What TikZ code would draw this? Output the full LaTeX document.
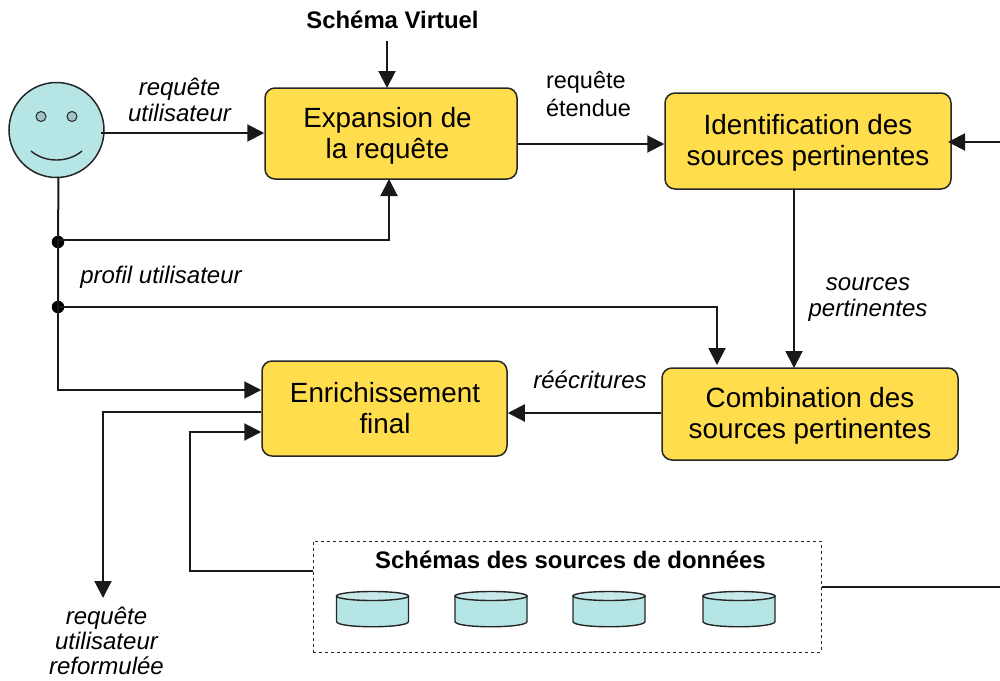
\documentclass[tikz,border=0pt]{standalone}
\usepackage{fontspec}
\setmainfont{Liberation Sans}
\usetikzlibrary{arrows.meta,calc}
\definecolor{boxfill}{HTML}{FFDD4D}
\definecolor{cyanfill}{HTML}{B5E5E5}
\definecolor{cyantop}{HTML}{C8E9E9}
\definecolor{eyefill}{HTML}{9CC4C2}
\tikzset{
  stepbox/.style={draw=black!85,line width=1.5pt,fill=boxfill,rounded corners=10pt,align=center,
    font=\fontsize{27.8}{31}\selectfont,inner sep=0pt},
  lab/.style={align=center,inner sep=0pt,font=\fontsize{24}{26}\selectfont\itshape},
  labn/.style={align=left,inner sep=0pt,font=\fontsize{23.5}{28}\selectfont},
  head/.style={align=center,inner sep=0pt,font=\fontsize{23.9}{26}\selectfont\bfseries},
  conn/.style={line width=2pt,black!90,-{Triangle[length=17pt,width=17pt]}},
  plain/.style={line width=2pt,black!90},
  dot/.style={circle,fill=black,inner sep=0pt,minimum size=12.5pt},
}
\newcommand{\cyl}[2]{%
  \node[inner sep=0pt,minimum width=72pt,minimum height=36.5pt] (#2) at (#1,609.5) {};
  \draw[line width=1.4pt,black!85,fill=cyanfill]
    (#1-36,596) -- (#1-36,621.5) .. controls (#1-36,628.5) and (#1+36,628.5) .. (#1+36,621.5) -- (#1+36,596) -- cycle;
  \draw[line width=1.4pt,black!85,fill=cyantop] (#1,596) ellipse [x radius=36,y radius=4.5];
}
\begin{document}
\begin{tikzpicture}[x=1pt,y=-1pt]
\useasboundingbox (0,0) rectangle (1000,680);
% boxes
\node[stepbox,minimum width=252pt,minimum height=91pt] (exp) at (391,133.5) {};
\node[stepbox,minimum width=286pt,minimum height=96pt] (idn) at (808,141) {};
\node[stepbox,minimum width=296pt,minimum height=92pt] (cmb) at (810,414) {};
\node[stepbox,minimum width=245pt,minimum height=95pt] (enr) at (384.5,408.5) {};
\node[stepbox,draw=none,fill=none] (expt) at (387.5,135.5) {Expansion de\\la requête};
\node[stepbox,draw=none,fill=none] (idnt) at (808,143) {Identification des\\sources pertinentes};
\node[stepbox,draw=none,fill=none] (cmbt) at (810,416) {Combination des\\sources pertinentes};
\node[stepbox,draw=none,fill=none] (enrt) at (385,408) {Enrichissement\\final};
% smiley
\node[circle,draw=black!85,line width=1.5pt,fill=cyanfill,minimum size=95pt,inner sep=0pt] (usr) at (56.5,130) {};
\node[circle,draw=black!85,line width=1pt,fill=eyefill,minimum size=10pt,inner sep=0pt] (eyeL) at (41,116.5) {};
\node[circle,draw=black!85,line width=1pt,fill=eyefill,minimum size=10pt,inner sep=0pt] (eyeR) at (72,116.5) {};
\draw[line width=1.4pt,black!85] (31,151) .. controls (45,163) and (68,163) .. (82,151);
% sources box
\node[draw=black!85,dashed,line width=1pt,minimum width=508pt,minimum height=111pt,inner sep=0pt] (src) at (567,596.5) {};
\node[head] (srct) at (570.5,560) {Schémas des sources de données};
\cyl{372.5}{c1}
\cyl{491}{c2}
\cyl{609}{c3}
\cyl{739}{c4}
% labels
\node[head] (sv) at (392.5,20) {Schéma Virtuel};
\node[lab] (lreq) at (179.5,99.5) {requête\\utilisateur};
\node[labn] (lext) at (588.5,94.5) {requête\\étendue};
\node[lab] (lprof) at (161,277) {profil utilisateur};
\node[lab] (lsrc) at (868,300) {sources\\pertinentes};
\node[lab] (lrec) at (590,380) {réécritures};
\node[lab,font=\fontsize{24}{25}\selectfont\itshape] (lout) at (106.5,640.5) {requête\\utilisateur\\reformulée};
% junctions and free ends
\node[dot] (j1) at (58,242) {};
\node[dot] (j2) at (58,307) {};
\coordinate (rin) at (1000,142);
\coordinate (rout) at (1000,587);
\coordinate (outend) at (103,598);
\coordinate (vtop) at (387,41);
\coordinate (usrr) at (101,133);
\coordinate (idnin) at (948,142);
% connectors
\draw[conn] (vtop) -- (387,88);
\draw[conn] (usrr) -- (exp.west |- usrr);
\draw[conn] (exp.east |- 0,144) -- (idn.west |- 0,144);
\draw[conn] (rin) -- (idnin);
\draw[conn] (794,189) -- (794,368);
\draw[conn] (cmb.west |- 0,413) -- (enr.east |- 0,413);
\draw[plain] (58.5,177) -- (j1.center) -- (j2.center);
\draw[conn] (58,240) -- (389,240) -- (389,179);
\draw[conn] (j2.center) -- (717,307) -- (717,365);
\draw[conn] (j2.center) -- (58,390) -- (enr.west |- 0,390);
\draw[conn] (enr.west |- 0,412) -- (103,412) -- (outend);
\draw[conn] (src.west |- 0,571) -- (190,571) -- (190,432) -- (enr.west |- 0,432);
\draw[plain] (src.east |- rout) -- (rout);
\end{tikzpicture}
\end{document}
